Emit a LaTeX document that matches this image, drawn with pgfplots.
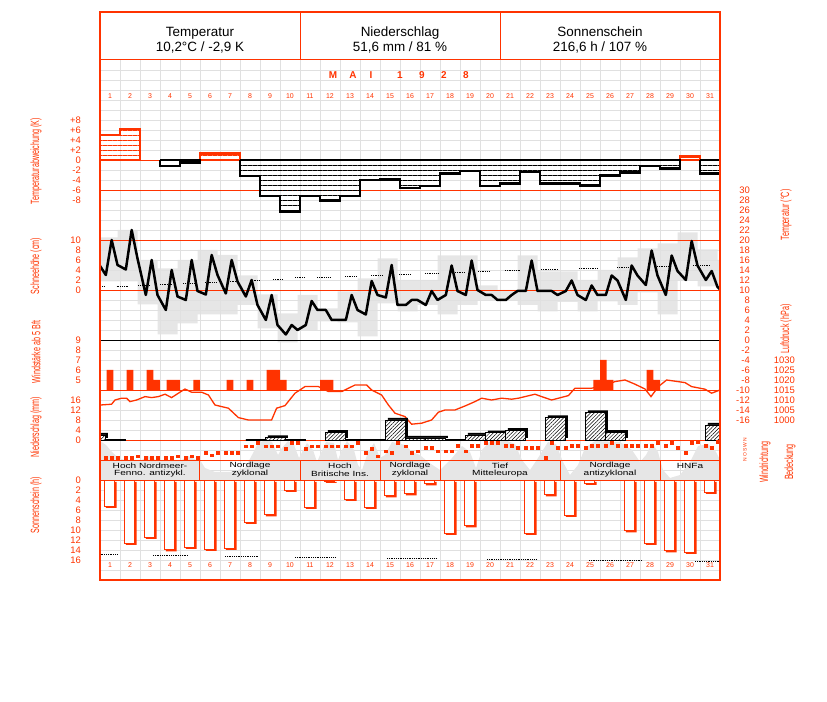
\documentclass[border=0pt]{standalone}
\usepackage{fontspec}
\setmainfont{Liberation Sans}
\usepackage{pgfplots}
\usepackage{pgfplotstable}
\pgfplotsset{compat=1.18}
\usepgfplotslibrary{fillbetween}
\usetikzlibrary{patterns.meta}

\definecolor{dred}{RGB}{255,51,0}
\definecolor{lgrid}{RGB}{224,224,224}
\definecolor{lfill}{RGB}{230,230,230}

% Temperaturabweichung (K), positive und negative Laeufe
\pgfplotstableread{
x v
0.5 0
0.5 5.0
1.5 6.2
2.5 0
0.5 0
nan nan
5.5 0
5.5 1.3
7.5 0
5.5 0
nan nan
29.5 0
29.5 0.7
30.5 0
29.5 0
}\devpos
\pgfplotstableread{
x v
3.5 0
3.5 -1.2
4.5 -0.5
5.5 0
3.5 0
nan nan
7.5 0
7.5 -3.2
8.5 -7.2
9.5 -10.3
10.5 -7.2
11.5 -8.1
12.5 -7.2
13.5 -4.0
14.5 -3.9
15.5 -5.6
16.5 -5.2
17.5 -2.7
18.5 -2.2
19.5 -5.2
20.5 -4.7
21.5 -2.4
22.5 -4.7
23.5 -4.7
24.5 -5.1
25.5 -3.1
26.5 -2.5
27.5 -1.2
28.5 -1.7
29.5 0
7.5 0
nan nan
30.5 0
30.5 -2.7
31.5 0
30.5 0
}\devneg

% Terminwerte der Temperatur (7, 14, 21 Uhr)
\pgfplotstableread{
d h t
0 21 15.6
1 7 13.0
1 14 20.0
1 21 15.0
2 7 14.1
2 14 22.0
2 21 16.3
3 7 9.0
3 14 16.0
3 21 9.0
4 7 6.0
4 14 14.0
4 21 8.7
5 7 8.0
5 14 16.0
5 21 9.8
6 7 9.1
6 14 17.0
6 21 13.0
7 7 9.3
7 14 16.0
7 21 11.7
8 7 8.7
8 14 12.0
8 21 7.0
9 7 4.0
9 14 9.0
9 21 3.0
10 7 1.1
10 14 3.0
10 21 2.0
11 7 3.0
11 14 7.8
11 21 6.0
12 7 6.0
12 14 4.0
12 21 4.0
13 7 4.0
13 14 9.0
13 21 6.0
14 7 5.1
14 14 11.8
14 21 9.0
15 7 8.5
15 14 15.0
15 21 7.0
16 7 7.0
16 14 8.0
16 21 8.0
17 7 7.0
17 14 9.8
17 21 8.0
18 7 9.0
18 14 14.9
18 21 9.8
19 7 9.0
19 14 15.9
19 21 10.0
20 7 9.0
20 14 9.0
20 21 8.0
21 7 8.0
21 14 9.0
21 21 9.8
22 7 9.8
22 14 15.9
22 21 9.8
23 7 9.8
23 14 9.8
23 21 9.0
24 7 9.8
24 14 11.9
24 21 9.0
25 7 8.0
25 14 10.9
25 21 9.0
26 7 9.0
26 14 12.9
26 21 11.9
27 7 8.0
27 14 14.9
27 21 12.9
28 7 11.0
28 14 17.9
28 21 12.9
29 7 9.0
29 14 16.9
29 21 13.8
30 7 12.0
30 14 19.8
30 21 14.9
31 7 12.0
31 14 13.8
31 21 10.6
32 7 9.0
}\tobs

% Maximum / Minimum (21-21 Uhr)
\pgfplotstableread{
d tmax tmin
1 20.5 11.7
2 22.0 11.7
3 16.0 7.1
4 14.3 1.1
5 16.0 3.3
6 18.0 5.1
7 17.0 5.1
8 12.9 7.0
9 9.1 2.3
10 5.3 -0.5
11 9.0 2.0
12 6.3 3.7
13 9.7 3.5
14 12.3 0.7
15 16.3 7.3
16 12.0 5.7
17 12.0 7.0
18 16.9 5.1
19 16.9 7.0
20 10.9 8.0
21 10.0 7.8
22 16.9 7.0
23 13.7 5.7
24 13.7 7.6
25 12.0 5.7
26 14.0 7.7
27 16.5 7.0
28 18.3 9.5
29 19.3 5.1
30 21.5 11.8
31 18.1 10.7
32 16.0 10.0
33 16.0 10.0
}\tblock

% langjaehriges Mittel (punktiert)
\pgfplotstableread{
x t
0.5 10.66
0.75 10.66
nan nan
1.33 10.8
1.92 10.8
nan nan
2.4 11.0
3.0 11.0
nan nan
3.5 11.14
4.1 11.14
nan nan
4.65 11.34
5.25 11.34
nan nan
5.75 11.54
6.35 11.54
nan nan
6.9 11.66
7.4 11.66
nan nan
8.0 12.0
8.5 12.0
nan nan
9.15 12.2
9.65 12.2
nan nan
10.25 12.46
10.75 12.46
nan nan
11.35 12.6
12.0 12.6
nan nan
12.75 12.74
13.35 12.74
nan nan
14.05 12.94
14.65 12.94
nan nan
15.45 13.14
16.0 13.14
nan nan
16.75 13.34
17.4 13.34
nan nan
18.25 13.54
18.75 13.54
nan nan
19.4 13.8
20.0 13.8
nan nan
20.75 14.0
21.5 14.0
nan nan
22.55 14.2
23.4 14.2
nan nan
24.45 14.34
25.35 14.34
nan nan
26.35 14.54
26.9 14.54
nan nan
28.35 14.74
29.05 14.74
nan nan
30.15 14.86
31.0 14.86
}\tmean

% Windstaerke ab 5 Bft (Termine)
\pgfplotstableread{
x b
1.0 6
2.0 6
3.0 6
3.333 5
4.0 5
4.333 5
5.333 5
7.0 5
8.0 5
9.0 6
9.333 6
9.667 5
11.667 5
12.0 5
25.333 5
25.667 7
26.0 5
28.0 6
28.333 5
}\wind

% Luftdruck (hPa)
\pgfplotstableread{
x p
0.53 1007.5
1.08 1007.9
1.25 1010.0
1.58 1010.9
1.83 1010.9
2.00 1009.2
2.33 1010.0
2.75 1011.7
3.08 1011.2
3.42 1011.7
3.75 1012.9
4.08 1011.2
4.42 1013.4
4.75 1015.5
5.08 1013.9
5.58 1013.9
5.92 1012.5
6.25 1007.5
6.58 1006.7
6.92 1005.9
7.42 1001.2
7.92 1000.0
9.08 1000.0
9.33 1005.9
9.75 1007.2
10.25 1013.4
10.75 1016.7
11.42 1016.7
11.92 1014.2
12.58 1014.2
13.25 1017.5
13.83 1017.5
14.08 1015.0
14.58 1012.5
14.92 1007.5
15.25 1003.4
15.75 1001.7
16.08 997.9
16.58 998.4
17.08 1000.0
17.42 1003.9
17.75 1005.0
18.25 1005.0
18.75 1007.0
19.25 1009.2
19.58 1010.9
20.08 1010.0
20.58 1010.9
21.08 1010.4
21.42 1010.9
22.25 1012.9
22.58 1011.7
23.08 1010.0
23.92 1012.2
24.25 1015.9
25.08 1015.9
25.75 1017.2
26.25 1019.2
26.75 1020.0
27.25 1017.9
27.75 1015.5
28.05 1011.7
28.42 1016.7
28.83 1020.0
29.75 1018.7
30.08 1016.7
30.75 1015.4
31.08 1013.4
31.50 1015.0
}\press

% Niederschlag (mm), 7-7 Uhr
\pgfplotstableread{
d v
0 2.0
9 1.0
12 3.1
15 8.0
16 0.8
17 0.8
19 2.0
20 2.9
21 3.9
23 9.0
25 11.0
26 3.1
31 6.0
}\prc
\pgfplotstableread{
d v
1 0
8 0
10 0
13 0
14 0
18 0
}\trace

% Windrichtung (Grad, Termine)
\pgfplotstableread{
d h v
1 7 41
1 14 41
1 21 41
2 7 41
2 14 41
2 21 72
3 7 41
3 14 41
3 21 41
4 7 41
4 14 41
4 21 72
5 7 41
5 14 72
5 21 41
6 7 131
6 14 85
6 21 131
7 7 131
7 14 131
7 21 131
8 7 252
8 14 252
8 21 311
9 7 252
9 14 252
9 21 252
10 7 203
10 14 311
10 21 311
11 7 203
11 14 252
11 21 252
12 7 252
12 14 252
12 21 252
13 7 252
13 14 252
13 21 311
14 7 131
14 14 203
14 21 72
15 7 162
15 14 131
15 21 311
16 7 252
16 14 131
16 21 162
17 7 221
17 14 221
17 21 162
18 7 162
18 14 162
18 21 257
19 7 162
19 14 257
19 21 257
20 7 311
20 14 311
20 21 311
21 7 257
21 14 257
21 21 221
22 7 221
22 14 221
22 21 221
23 7 41
23 14 311
23 21 221
24 7 221
24 14 257
24 21 257
25 7 221
25 14 257
25 21 257
26 7 257
26 14 311
26 21 257
27 7 257
27 14 257
27 21 257
28 7 257
28 14 257
28 21 311
29 7 257
29 14 311
29 21 221
30 7 131
30 14 311
30 21 329
31 7 257
31 14 221
31 21 329
}\wdir

% Bedeckung (Zehntel)
\pgfplotstableread{
x c
0.5 9.75
0.8 8.75
1.1 7.0
1.4 5.5
1.75 5.0
2.6 5.0
2.9 6.0
3.3 5.0
4.6 5.0
4.9 6.0
5.3 5.0
5.5 5.0
5.75 3.0
6.25 2.0
7.0 2.0
7.75 3.0
8.1 6.25
8.4 9.25
8.8 10.0
9.1 9.5
9.4 6.25
9.6 8.0
9.9 9.75
10.2 8.75
10.45 5.5
10.6 7.0
10.85 9.25
11.15 7.5
11.35 4.5
11.5 6.25
11.8 9.5
12.2 9.25
12.4 5.0
12.55 7.0
12.85 9.75
13.2 7.5
13.4 3.75
13.6 2.5
13.9 7.0
14.2 9.25
14.5 5.5
14.75 6.25
15.1 9.5
15.75 8.75
16.1 7.0
16.5 6.25
16.9 4.5
17.5 2.5
18.1 5.5
18.6 8.5
19.0 7.0
19.3 3.0
19.6 7.5
20.0 9.75
20.75 10.0
21.25 9.0
21.6 5.0
22.0 2.5
22.4 5.5
22.9 9.5
23.3 9.0
23.65 4.5
24.0 1.25
24.4 3.75
24.75 8.0
25.25 9.75
26.5 9.5
27.1 7.5
27.5 4.5
27.8 6.25
28.1 9.25
28.4 7.0
28.65 2.5
29.0 0.5
29.5 1.25
30.0 4.5
30.4 8.5
30.9 9.0
31.3 7.0
31.5 5.0
}\cloud

% Sonnenscheindauer (h)
\pgfplotstableread{
d v
1 5.2
2 12.6
3 11.4
4 13.9
5 13.4
6 13.8
7 13.6
8 8.4
9 6.9
10 2.0
11 5.4
12 0.2
13 3.8
14 5.4
15 3.1
16 2.7
17 0.7
18 10.6
19 9.1
22 10.6
23 2.9
24 7.0
25 0.6
27 10.1
28 12.6
29 14.1
30 14.4
31 2.4
}\sun
\pgfplotstableread{
x v
0.535 14.86
1.415 14.86
nan nan
3.15 15.14
4.9 15.14
nan nan
6.75 15.34
8.4 15.34
nan nan
10.25 15.46
12.3 15.46
nan nan
14.85 15.66
17.35 15.66
nan nan
19.85 15.8
22.3 15.8
nan nan
24.95 16.0
27.6 16.0
nan nan
30.25 16.2
31.5 16.2
}\sunmax

\newcommand{\lab}[1]{\scalebox{0.6}[1]{\fontsize{12}{12}\selectfont #1}}
\newcommand{\bandtxt}[3]{%
  \node[font=\fontsize{7.5}{7.5}\selectfont, inner sep=0pt] at (axis cs:#1,466) {\scalebox{1.35}[1]{#2}};
  \node[font=\fontsize{7.5}{7.5}\selectfont, inner sep=0pt] at (axis cs:#1,473.5) {\scalebox{1.35}[1]{#3}};}
\newcommand{\hl}[2]{\draw[#1, line width=1bp] (axis cs:0.5,#2) -- (axis cs:31.5,#2);}
\newcommand{\vl}[3]{\draw[dred, line width=1bp] (axis cs:#1,#2) -- (axis cs:#1,#3);}
\newcommand{\mai}[2]{\node[text=dred, font=\fontsize{10}{10}\selectfont\bfseries, inner sep=0pt] at (axis cs:#1,75) {#2};}

\pgfplotsset{
  panel/.style={
    scale only axis, width=620bp, height=568bp,
    at={(0bp,0bp)}, anchor=south west,
    xmin=0.5, xmax=31.5, xtick=\empty,
    axis line style={draw=none}, tick style={draw=none},
    major tick length=0pt,
    yticklabel style={font=\fontsize{9.5}{9.5}\selectfont, text=dred, inner sep=0pt},
  },
  lticks/.style={yticklabel pos=left, yticklabel style={anchor=east, xshift=-19bp}},
  rticks/.style={yticklabel pos=right, yticklabel style={anchor=east, xshift=#1}},
  pix/.style={panel, ymin=12, ymax=580, y dir=reverse, ytick=\empty},
  hatch/.style={pattern={Lines[angle=0,distance=5bp,yshift=2bp,line width=0.8bp]}},
}

\begin{document}
\begin{tikzpicture}

% Gitter
\begin{axis}[pix, xtick={1.5,2.5,...,30.5}, ytick={70,80,...,570},
  xticklabels={}, yticklabels={}, grid=major, grid style={lgrid, line width=0.9bp}]
  \addplot[draw=none, forget plot] coordinates {(1,300)};
  \fill[white] (axis cs:0.5,12) rectangle (axis cs:31.5,60);
\end{axis}

% Bedeckung
\begin{axis}[panel, ymin=-25, ymax=117, ytick=\empty]
  \addplot[fill=lfill, draw=none] table {\cloud} \closedcycle;
\end{axis}

% Tagesschwankung der Temperatur
\begin{axis}[panel, ymin=-48, ymax=65.6, ytick=\empty]
  \addplot[const plot, draw=none, name path=tmx] table[x expr=\thisrow{d}-0.625, y=tmax] {\tblock};
  \addplot[const plot, draw=none, name path=tmn] table[x expr=\thisrow{d}-0.625, y=tmin] {\tblock};
  \addplot[lfill, draw=none] fill between[of=tmx and tmn];
\end{axis}

% Linien, Rahmen und Texte
\begin{axis}[pix, clip=false]
  \addplot[draw=none, forget plot] coordinates {(1,300)};
  \hl{dred}{60}\hl{dred}{160}\hl{dred}{190}\hl{dred}{240}\hl{dred}{290}
  \hl{dred}{390}\hl{dred}{440}\hl{dred}{460}\hl{dred}{480}\hl{black}{340}
  \vl{10.5}{12}{60}\vl{20.5}{12}{60}
  \vl{5.5}{460}{480}\vl{10.5}{460}{480}\vl{14.5}{460}{480}
  \vl{17.5}{460}{480}\vl{23.5}{460}{480}\vl{28.5}{460}{480}
  \node[align=center, font=\fontsize{13.5}{15.5}\selectfont] at (axis cs:5.5,40) {Temperatur\\10,2°C / -2,9 K};
  \node[align=center, font=\fontsize{13.5}{15.5}\selectfont] at (axis cs:15.5,40) {Niederschlag\\51,6 mm / 81 \%};
  \node[align=center, font=\fontsize{13.5}{15.5}\selectfont] at (axis cs:25.5,40) {Sonnenschein\\216,6 h / 107 \%};
  \mai{12.15}{M}\mai{13.15}{A}\mai{14.05}{I}
  \mai{15.5}{1}\mai{16.6}{9}\mai{17.7}{2}\mai{18.8}{8}
  \pgfplotsinvokeforeach{1,...,31}{
    \node[text=dred, font=\fontsize{7}{7}\selectfont] at (axis cs:#1,96) {#1};
    \node[text=dred, font=\fontsize{7}{7}\selectfont] at (axis cs:#1,565) {#1};
  }
  \bandtxt{3}{Hoch Nordmeer-}{Fenno. antizykl.}
  \bandtxt{8}{Nordlage}{zyklonal}
  \bandtxt{12.5}{Hoch}{Britische Ins.}
  \bandtxt{16}{Nordlage}{zyklonal}
  \bandtxt{20.5}{Tief}{Mitteleuropa}
  \bandtxt{26}{Nordlage}{antizyklonal}
  \bandtxt{30}{HNFa}{}
  \node[rotate=90, text=dred] at (axis cs:-2.7,161) {\lab{Temperaturabweichung (K)}};
  \node[rotate=90, text=dred] at (axis cs:-2.7,266) {\lab{Schneehöhe (cm)}};
  \node[rotate=90, text=dred] at (axis cs:-2.7,352) {\lab{Windstärke ab 5 Bft}};
  \node[rotate=90, text=dred] at (axis cs:-2.7,427) {\lab{Niederschlag (mm)}};
  \node[rotate=90, text=dred] at (axis cs:-2.7,505) {\lab{Sonnenschein (h)}};
  \node[rotate=90, text=dred] at (axis cs:34.8,215) {\lab{Temperatur (°C)}};
  \node[rotate=90, text=dred] at (axis cs:34.8,329) {\lab{Luftdruck (hPa)}};
  \node[rotate=90, text=dred] at (axis cs:33.75,462) {\lab{Windrichtung}};
  \node[rotate=90, text=dred] at (axis cs:35.0,462) {\lab{Bedeckung}};
  \node[rotate=90, text=dred, font=\fontsize{5}{5}\selectfont, inner sep=0pt] at (axis cs:32.75,440) {N};
  \node[rotate=90, text=dred, font=\fontsize{5}{5}\selectfont, inner sep=0pt] at (axis cs:32.75,445) {W};
  \node[rotate=90, text=dred, font=\fontsize{5}{5}\selectfont, inner sep=0pt] at (axis cs:32.75,450) {S};
  \node[rotate=90, text=dred, font=\fontsize{5}{5}\selectfont, inner sep=0pt] at (axis cs:32.75,455) {O};
  \node[rotate=90, text=dred, font=\fontsize{5}{5}\selectfont, inner sep=0pt] at (axis cs:32.75,460) {N};
\end{axis}

% Temperaturabweichung
\begin{axis}[panel, lticks, ymin=-84, ymax=29.6, ytick={-8,-6,...,8},
  yticklabels={-8,-6,-4,-2,0,+2,+4,+6,+8}, unbounded coords=jump]
  \addplot[const plot, dred, line width=2.2bp, hatch, pattern color=dred] table {\devpos};
  \addplot[const plot, black, line width=2.2bp, hatch, pattern color=black] table {\devneg};
\end{axis}

% Temperatur
\begin{axis}[panel, rticks=30bp, ymin=-48, ymax=65.6, ytick={-16,-14,...,30},
  yticklabels={-16,-14,-12,-10,-8,-6,-4,-2,0,2,4,6,8,10,12,14,16,18,20,22,24,26,28,30},
  unbounded coords=jump]
  \addplot[black, densely dotted, line width=0.8bp] table {\tmean};
  \addplot[black, line width=2.5bp, line join=round] table[x expr=\thisrow{d}-0.5+\thisrow{h}/24, y=t] {\tobs};
\end{axis}

% Schneehoehe (nur Skala, kein Schnee)
\begin{axis}[panel, lticks, ymin=-58, ymax=55.6, ytick={0,2,...,10}, yticklabels={0,2,4,6,8,10}]
  \addplot[draw=none, forget plot] coordinates {(1,0)};
\end{axis}

% Windstaerke
\begin{axis}[panel, lticks, ymin=-19, ymax=37.8, ytick={1,...,5}, yticklabels={5,6,7,8,9}]
  \addplot[ybar, bar width=0.333, bar shift=0pt, fill=dred, draw=none] table[x=x, y expr=\thisrow{b}-4] {\wind};
\end{axis}

% Luftdruck
\begin{axis}[panel, rticks=75bp, ymin=920, ymax=1204, ytick={1000,1005,...,1030},
  yticklabels={1000,1005,1010,1015,1020,1025,1030}]
  \addplot[dred, line width=1.3bp] table {\press};
\end{axis}

% Niederschlag
\begin{axis}[panel, lticks, ymin=-56, ymax=171.2, ytick={0,4,...,16}, yticklabels={0,4,8,12,16}]
  \addplot[ybar, bar width=1, bar shift=0pt, fill=black, draw=none, xshift=2bp, yshift=2bp] table[x expr=\thisrow{d}+0.29, y=v] {\prc};
  \addplot[ybar, bar width=1, bar shift=0pt, fill=white, draw=black, line width=0.8bp,
    postaction={pattern={Lines[angle=45,distance=2.6bp,line width=0.5bp]}}] table[x expr=\thisrow{d}+0.29, y=v] {\prc};
  \addplot[ybar, bar width=1, bar shift=0pt, draw=black, line width=2bp] table[x expr=\thisrow{d}+0.29, y=v] {\trace};
\end{axis}

% Windrichtung
\begin{axis}[panel, ymin=-2160, ymax=8064, ytick=\empty]
  \addplot[only marks, mark=square*, mark size=1.2bp, dred] table[x expr=\thisrow{d}-0.5+\thisrow{h}/24, y=v] {\wdir};
\end{axis}

% Sonnenschein
\begin{axis}[panel, lticks, y dir=reverse, ymin=-93.6, ymax=20, ytick={0,2,...,16},
  yticklabels={0,2,4,6,8,10,12,14,16}, unbounded coords=jump]
  \addplot[ybar, bar width=0.54, bar shift=0pt, fill=dred, draw=none, xshift=1.8bp, yshift=-1.8bp] table[x expr=\thisrow{d}-0.03, y=v] {\sun};
  \addplot[ybar, bar width=0.54, bar shift=0pt, fill=white, draw=dred, line width=1bp] table[x expr=\thisrow{d}-0.03, y=v] {\sun};
  \addplot[black, densely dotted, line width=0.8bp] table {\sunmax};
\end{axis}

% Rahmen
\begin{axis}[pix, clip=false]
  \addplot[draw=none, forget plot] coordinates {(1,300)};
  \draw[dred, line width=1.4bp] (axis cs:0.5,12) rectangle (axis cs:31.5,580);
\end{axis}

\pgfresetboundingbox
\path[use as bounding box] (-100bp,-122bp) rectangle (727bp,580bp);
\end{tikzpicture}
\end{document}
